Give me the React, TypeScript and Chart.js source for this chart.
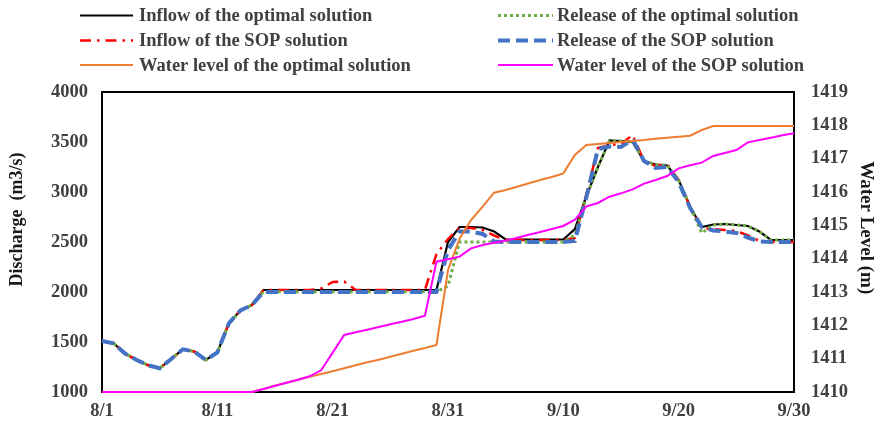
import React, { useEffect, useRef } from 'react';
import { Chart, registerables } from 'chart.js';

Chart.register(...registerables);

const dates = [
  '8/1', '8/2', '8/3', '8/4', '8/5', '8/6', '8/7', '8/8', '8/9', '8/10',
  '8/11', '8/12', '8/13', '8/14', '8/15', '8/16', '8/17', '8/18', '8/19', '8/20',
  '8/21', '8/22', '8/23', '8/24', '8/25', '8/26', '8/27', '8/28', '8/29', '8/30',
  '8/31', '9/1', '9/2', '9/3', '9/4', '9/5', '9/6', '9/7', '9/8', '9/9',
  '9/10', '9/11', '9/12', '9/13', '9/14', '9/15', '9/16', '9/17', '9/18', '9/19',
  '9/20', '9/21', '9/22', '9/23', '9/24', '9/25', '9/26', '9/27', '9/28', '9/29',
  '9/30',
];

const inflowOptimal = [
  1510, 1487, 1385, 1320, 1268, 1237, 1330, 1427, 1405, 1320,
  1395, 1687, 1815, 1870, 2020, 2020, 2020, 2020, 2020, 2020,
  2020, 2020, 2020, 2020, 2020, 2020, 2020, 2020, 2020, 2020,
  2500, 2650, 2650, 2645, 2605, 2525, 2525, 2525, 2525, 2525,
  2525, 2630, 2960, 3250, 3515, 3510, 3500, 3310, 3275, 3265,
  3120, 2850, 2650, 2675, 2680, 2670, 2660, 2605, 2520, 2520,
  2520,
];

const releaseOptimal = [
  1510, 1487, 1385, 1320, 1268, 1237, 1330, 1427, 1405, 1320,
  1395, 1687, 1815, 1870, 2003, 2003, 2003, 2003, 2003, 2003,
  2003, 2003, 2003, 2003, 2003, 2003, 2003, 2003, 2003, 2003,
  2060, 2500, 2500, 2500, 2500, 2500, 2500, 2500, 2500, 2500,
  2500, 2570, 2950, 3250, 3510, 3510, 3500, 3310, 3275, 3265,
  3120, 2850, 2590, 2670, 2680, 2670, 2660, 2605, 2520, 2520,
  2520,
];

const inflowSOP = [
  1510, 1487, 1385, 1320, 1268, 1237, 1330, 1427, 1405, 1320,
  1395, 1687, 1815, 1870, 2020, 2020, 2020, 2020, 2020, 2035,
  2100, 2105, 2020, 2020, 2020, 2020, 2020, 2020, 2020, 2380,
  2530, 2640, 2640, 2620, 2565, 2520, 2520, 2520, 2520, 2520,
  2520, 2540, 2980, 3440, 3470, 3480, 3570, 3310, 3260, 3280,
  3120, 2850, 2640, 2630, 2620, 2610, 2565, 2510, 2500, 2500,
  2500,
];

const releaseSOP = [
  1510, 1487, 1385, 1320, 1268, 1237, 1330, 1427, 1405, 1320,
  1395, 1687, 1815, 1870, 2000, 2000, 2000, 2000, 2000, 2000,
  2000, 2000, 2000, 2000, 2000, 2000, 2000, 2000, 2000, 2000,
  2420, 2605, 2605, 2580, 2505, 2500, 2500, 2500, 2500, 2500,
  2500, 2510, 2950, 3430, 3455, 3450, 3525, 3310, 3240, 3250,
  3100, 2840, 2650, 2615, 2605, 2590, 2545, 2505, 2500, 2500,
  2500,
];

const levelOptimal = [
  1410, 1410, 1410, 1410, 1410, 1410, 1410, 1410, 1410, 1410,
  1410, 1410, 1410, 1410, 1410.09, 1410.19, 1410.28, 1410.37, 1410.46, 1410.54,
  1410.62, 1410.71, 1410.8, 1410.89, 1410.97, 1411.06, 1411.15, 1411.24, 1411.32, 1411.41,
  1413.66, 1414.6, 1415.16, 1415.56, 1415.98, 1416.06, 1416.16, 1416.26, 1416.36, 1416.45,
  1416.56, 1417.11, 1417.41, 1417.44, 1417.47, 1417.5, 1417.53, 1417.56, 1417.6, 1417.63,
  1417.66, 1417.69, 1417.86, 1417.98, 1417.98, 1417.98, 1417.98, 1417.98, 1417.98, 1417.98,
  1417.98,
];

const levelSOP = [
  1410, 1410, 1410, 1410, 1410, 1410, 1410, 1410, 1410, 1410,
  1410, 1410, 1410, 1410, 1410.09, 1410.19, 1410.28, 1410.37, 1410.47, 1410.65,
  1411.18, 1411.71, 1411.79, 1411.87, 1411.95, 1412.03, 1412.11, 1412.19, 1412.29, 1413.91,
  1413.98, 1414.06, 1414.31, 1414.41, 1414.48, 1414.54, 1414.63, 1414.72, 1414.8, 1414.89,
  1414.98, 1415.17, 1415.57, 1415.67, 1415.86, 1415.96, 1416.08, 1416.25, 1416.36, 1416.48,
  1416.71, 1416.8, 1416.88, 1417.08, 1417.17, 1417.26, 1417.49, 1417.56, 1417.63, 1417.7,
  1417.76,
];

const FONT = "'Liberation Serif', 'Times New Roman', serif";
const TEXT_GRAY = '#404040';

// legend layout slots (x of sample start/end, text x, row y) in dataset order
const legendSlots = [
  { x0: 80, x1: 133, tx: 139, y: 15.5 },
  { x0: 498, x1: 553, tx: 557, y: 15.5 },
  { x0: 80, x1: 133, tx: 139, y: 40.5 },
  { x0: 498, x1: 553, tx: 557, y: 40.5 },
  { x0: 80, x1: 133, tx: 139, y: 65 },
  { x0: 498, x1: 553, tx: 557, y: 65 },
];

const framePlugin = {
  id: 'plotFrame',
  beforeDatasetsDraw(chart: any) {
    const { ctx, chartArea: a } = chart;
    ctx.save();
    ctx.strokeStyle = '#000000';
    ctx.lineWidth = 2;
    ctx.strokeRect(a.left, a.top, a.right - a.left, a.bottom - a.top);
    ctx.restore();
  },
};

const legendPlugin = {
  id: 'twoColumnLegend',
  afterDraw(chart: any) {
    const { ctx } = chart;
    ctx.save();
    chart.data.datasets.forEach((ds: any, i: number) => {
      const s = legendSlots[i];
      if (!s) return;
      ctx.beginPath();
      ctx.strokeStyle = ds.borderColor;
      ctx.lineWidth = ds.borderWidth;
      ctx.setLineDash(ds.borderDash || []);
      ctx.lineCap = 'butt';
      ctx.moveTo(s.x0, s.y);
      ctx.lineTo(s.x1, s.y);
      ctx.stroke();
      ctx.setLineDash([]);
      ctx.fillStyle = TEXT_GRAY;
      ctx.font = `bold 18.5px ${FONT}`;
      ctx.textAlign = 'left';
      ctx.textBaseline = 'middle';
      ctx.fillText(ds.label, s.tx, s.y + 1);
    });
    ctx.restore();
  },
};

export default function App() {
  const ref = useRef<HTMLCanvasElement | null>(null);

  useEffect(() => {
    if (!ref.current) return;
    const tickFont = { family: FONT, size: 18.5, weight: 'bold' as const };
    const lineCommon = { pointRadius: 0, tension: 0, fill: false, clip: false as any };
    const plain = (v: any) => String(v);
    const noGrid = { display: false, drawTicks: false, tickLength: 0 };
    const chart = new Chart(ref.current, {
      type: 'line',
      data: {
        labels: dates,
        datasets: [
          {
            ...lineCommon,
            label: 'Inflow of the optimal solution',
            data: inflowOptimal,
            borderColor: '#000000',
            borderWidth: 2.2,
            yAxisID: 'y',
            order: 5,
          },
          {
            ...lineCommon,
            label: 'Release of the optimal solution',
            data: releaseOptimal,
            borderColor: '#70AD47',
            borderWidth: 3,
            borderDash: [3, 3],
            yAxisID: 'y',
            order: 3,
          },
          {
            ...lineCommon,
            label: 'Inflow of the SOP solution',
            data: inflowSOP,
            borderColor: '#FF0000',
            borderWidth: 2.5,
            borderDash: [11, 6, 2.5, 6],
            yAxisID: 'y',
            order: 4,
          },
          {
            ...lineCommon,
            label: 'Release of the SOP solution',
            data: releaseSOP,
            borderColor: '#4472C4',
            borderWidth: 4,
            borderDash: [12, 6],
            yAxisID: 'y',
            order: 2,
          },
          {
            ...lineCommon,
            label: 'Water level of the optimal solution',
            data: levelOptimal,
            borderColor: '#ED7D31',
            borderWidth: 2,
            yAxisID: 'y1',
            order: 1,
          },
          {
            ...lineCommon,
            label: 'Water level of the SOP solution',
            data: levelSOP,
            borderColor: '#FF00FF',
            borderWidth: 2,
            yAxisID: 'y1',
            order: 0,
          },
        ],
      },
      options: {
        responsive: false,
        animation: false,
        devicePixelRatio: 1,
        layout: { padding: { top: 92, left: 0, right: 0, bottom: 0 } },
        plugins: {
          legend: { display: false },
          tooltip: { enabled: false },
        },
        scales: {
          x: {
            type: 'category',
            grid: noGrid,
            border: { display: false },
            ticks: {
              autoSkip: false,
              maxRotation: 0,
              minRotation: 0,
              padding: 8,
              color: TEXT_GRAY,
              font: tickFont,
              callback: (_v: any, i: number) => (i % 10 === 0 ? dates[i] : null),
            },
            afterFit: (s: any) => {
              s.height = 32;
            },
          },
          y: {
            type: 'linear',
            position: 'left',
            min: 1000,
            max: 4000,
            grid: noGrid,
            border: { display: false },
            ticks: { stepSize: 500, padding: 14, color: TEXT_GRAY, font: tickFont, callback: plain },
            title: {
              display: true,
              text: '          Discharge  (m3/s)',
              color: '#1a1a1a',
              font: { family: FONT, size: 18, weight: 'bold', lineHeight: 1 },
              padding: { top: 8, bottom: 0 },
            },
            afterFit: (s: any) => {
              s.width = 102;
            },
          },
          y1: {
            type: 'linear',
            position: 'right',
            min: 1410,
            max: 1419,
            grid: noGrid,
            border: { display: false },
            ticks: { stepSize: 1, padding: 17, color: TEXT_GRAY, font: tickFont, callback: plain },
            title: {
              display: true,
              text: 'Water Level (m)      ',
              color: '#1a1a1a',
              font: { family: FONT, size: 19, weight: 'bold', lineHeight: 1 },
              padding: { top: 1, bottom: 0 },
            },
            afterFit: (s: any) => {
              s.width = 82;
            },
          },
        },
      },
      plugins: [framePlugin, legendPlugin],
    });
    return () => chart.destroy();
  }, []);

  return (
    <div style={{ position: 'absolute', left: 0, top: 0, width: 876, height: 424, background: '#ffffff' }}>
      <canvas ref={ref} width={876} height={424} style={{ display: 'block', width: 876, height: 424 }} />
    </div>
  );
}
